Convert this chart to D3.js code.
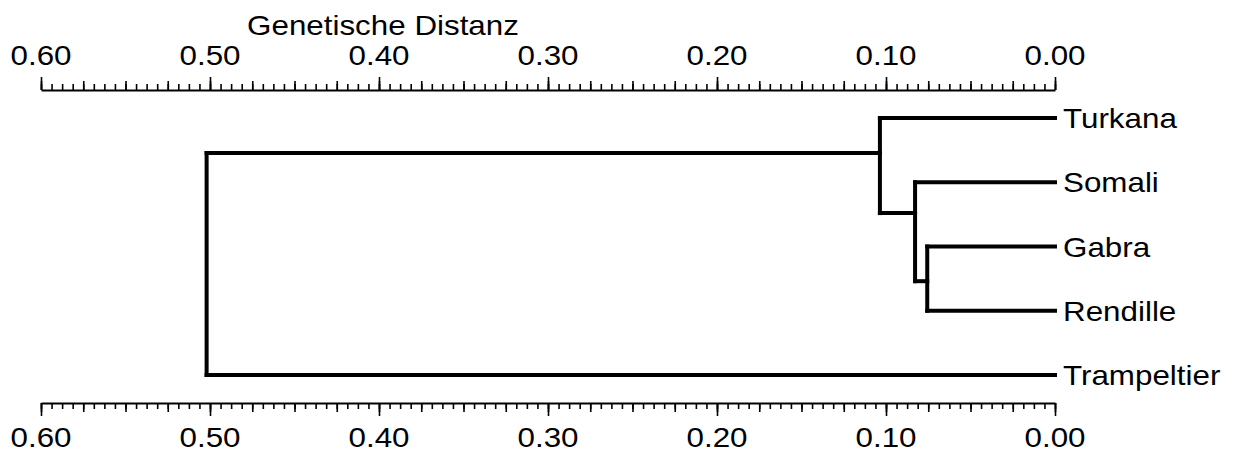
<!DOCTYPE html>
<html lang="de">
<head>
<meta charset="UTF-8">
<title>Genetische Distanz</title>
<script src="https://d3js.org/d3.v7.min.js"></script>
<style>
  body { margin: 0; background: #fff; }
  text { font-family: "Liberation Sans", Arial, Helvetica, sans-serif; fill: #000; }
  .axis path { stroke: #000; stroke-width: 2; }
  .axis line { stroke: #000; stroke-width: 1.6; }
  .tree path { fill: none; stroke: #000; stroke-width: 4; stroke-linecap: square; }
</style>
</head>
<body>
<script>

// leaves top to bottom
var leaves = ["Turkana", "Somali", "Gabra", "Rendille", "Trampeltier"];

// internal nodes (clustering order), their children, distance and vertical place (leaf rank units)
var nodeNames = ["GR", "SGR", "TSGR", "root"];
var nodeChildren = [["Gabra", "Rendille"], ["Somali", "GR"], ["Turkana", "SGR"], ["TSGR", "Trampeltier"]];
var nodeHeights = [0.0756, 0.0828, 0.1036, 0.502];
var nodeRanks = [2.54, 1.48, 0.545, 2.0];

var majorTicks = [0.60, 0.50, 0.40, 0.30, 0.20, 0.10, 0.00];
var axisTitle = "Genetische Distanz";

var W = 1235, H = 457;
var fontSize = 28, stretch = 1.12;

var x = d3.scaleLinear().domain([0.60, 0]).range([41, 1055]);
var y = d3.scaleLinear().domain([0, 4]).range([118, 375]);

var svg = d3.select("body").append("svg")
    .attr("width", W)
    .attr("height", H);

// lookup of positions
var pos = {};
leaves.forEach(function(name, i) { pos[name] = {h: 0, r: i}; });
nodeNames.forEach(function(name, i) { pos[name] = {h: nodeHeights[i], r: nodeRanks[i]}; });

var tree = svg.append("g").attr("class", "tree");

nodeNames.forEach(function(name, i) {
    var node = pos[name];
    var kids = nodeChildren[i].map(function(k) { return pos[k]; });
    var top = d3.min(kids, function(k) { return k.r; });
    var bot = d3.max(kids, function(k) { return k.r; });
    // vertical bar
    tree.append("path")
        .attr("d", "M" + x(node.h) + "," + y(top) + "V" + y(bot));
    // horizontal links to children
    kids.forEach(function(k) {
        tree.append("path")
            .attr("d", "M" + x(node.h) + "," + y(k.r) + "H" + x(k.h));
    });
});

// leaf labels
svg.append("g").selectAll("text")
    .data(leaves)
    .enter().append("text")
    .attr("transform", function(d, i) { return "translate(1063," + (y(i) + 10) + ") scale(" + stretch + ",1)"; })
    .style("font-size", fontSize + "px")
    .text(function(d) { return d; });

// axes with three tick levels
var minorTicks = d3.range(0, 97).map(function(i) { return i * 0.00625; });
var mediumTicks = d3.range(0, 25).map(function(i) { return i * 0.025; });

function drawAxis(axisFn, yPos, labels) {
    var g = svg.append("g").attr("class", "axis").attr("transform", "translate(0," + yPos + ")");
    g.append("g").call(axisFn(x).tickValues(minorTicks).tickSize(6).tickSizeOuter(0).tickFormat(""));
    g.append("g").call(axisFn(x).tickValues(mediumTicks).tickSize(9).tickSizeOuter(0).tickFormat(""))
        .select(".domain").remove();
    var major = g.append("g").call(axisFn(x).tickValues(majorTicks).tickSize(13).tickSizeOuter(0)
        .tickFormat(d3.format(".2f")));
    major.select(".domain").remove();
    major.selectAll("text").remove();
    g.selectAll(".minor-free").remove();
    // labels
    g.append("g").selectAll("text")
        .data(majorTicks)
        .enter().append("text")
        .attr("text-anchor", "middle")
        .attr("transform", function(d) { return "translate(" + x(d) + "," + labels + ") scale(" + stretch + ",1)"; })
        .style("font-size", fontSize + "px")
        .text(d3.format(".2f"));
    return g;
}

drawAxis(d3.axisTop, 90, -25);
drawAxis(d3.axisBottom, 403, 44);

svg.append("text")
    .attr("text-anchor", "middle")
    .attr("transform", "translate(383,35) scale(" + stretch + ",1)")
    .style("font-size", fontSize + "px")
    .text(axisTitle);

</script>
</body>
</html>
